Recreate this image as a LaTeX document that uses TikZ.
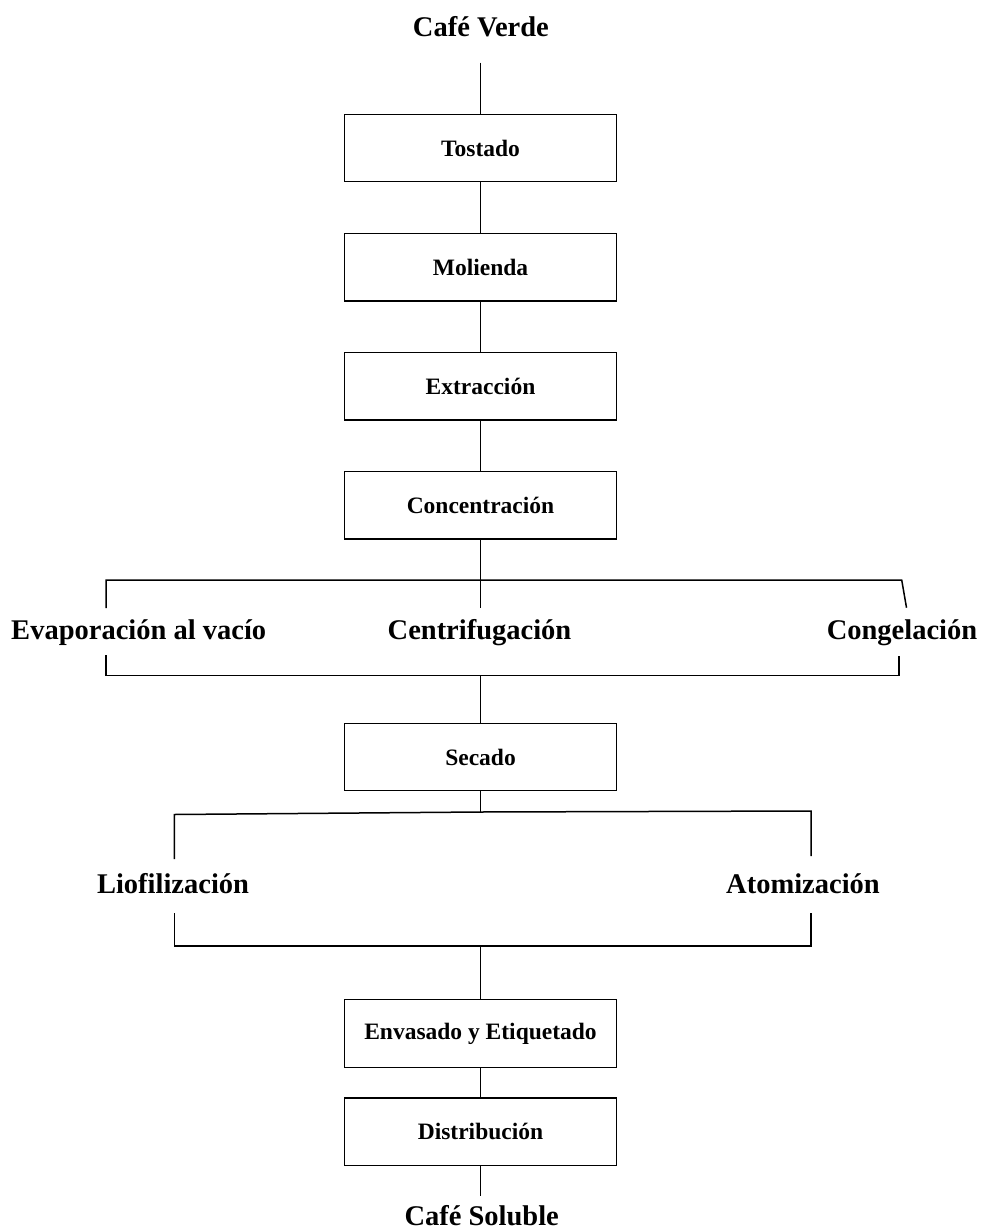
\documentclass[tikz,border=0pt]{standalone}
\usepackage{fontspec}
\setmainfont{Liberation Serif}
\begin{document}
\begin{tikzpicture}[x=1pt,y=-1pt,
  box/.style={draw, line width=1.4pt, minimum width=272.5pt, minimum height=67.5pt, inner sep=0pt,
    font=\fontsize{23.5}{28}\selectfont\bfseries},
  head/.style={font=\fontsize{28.5}{34}\selectfont\bfseries, inner sep=0pt, anchor=base},
  ln/.style={line width=1.5pt, line join=miter}]
\path[fill=white, use as bounding box] (0,0) rectangle (982,1230);

% text labels
\node[head] (cv) at (480.9,36.7) {Café Verde};
\node[head] (evap) at (138.7,639) {Evaporación al vacío};
\node[head] (centr) at (479.5,639) {Centrifugación};
\node[head] (cong) at (902,639) {Congelación};
\node[head] (lio) at (173,893) {Liofilización};
\node[head] (ato) at (803,893) {Atomización};
\node[head] (cs) at (481.7,1225.5) {Café Soluble};

% boxes
\node[box] (tos) at (480.5,148) {Tostado};
\node[box] (mol) at (480.5,267.2) {Molienda};
\node[box] (ext) at (480.5,386.2) {Extracción};
\node[box] (con) at (480.5,505.2) {Concentración};
\node[box] (sec) at (480.5,757) {Secado};
\node[box] (env) at (480.5,1033.5) {Envasado y Etiquetado};
\node[box] (dis) at (480.5,1131.9) {Distribución};

% coordinates
\coordinate (cvend) at (480.5,62.7);
\coordinate (b1m) at (480.5,580);
\coordinate (b1c) at (480.5,608);
\coordinate (b1l) at (106,580);
\coordinate (b1lt) at (106,608);
\coordinate (b1r) at (901.7,580);
\coordinate (b1rt) at (906.5,607.7);
\coordinate (b2lt) at (106,655);
\coordinate (b2l) at (106,675.7);
\coordinate (b2m) at (480.5,675.7);
\coordinate (b2r) at (899,675.7);
\coordinate (b2rt) at (899,655.7);
\coordinate (b3m) at (480.5,812);
\coordinate (b3l) at (174.3,814.5);
\coordinate (b3lt) at (174.3,859);
\coordinate (b3r) at (811,811);
\coordinate (b3rt) at (811,856);
\coordinate (b4lt) at (174.3,913);
\coordinate (b4l) at (174.3,946);
\coordinate (b4m) at (480.5,946);
\coordinate (b4r) at (811,946);
\coordinate (b4rt) at (811,913);
\coordinate (csend) at (480.5,1196);

% connectors
\draw[ln] (cvend) -- (tos.north);
\draw[ln] (tos.south) -- (mol.north);
\draw[ln] (mol.south) -- (ext.north);
\draw[ln] (ext.south) -- (con.north);
\draw[ln] (con.south) -- (b1c);
\draw[ln] (b1lt) -- (b1l) -- (b1m) -- (b1r) -- (b1rt);
\draw[ln] (b2lt) -- (b2l) -- (b2m) -- (b2r) -- (b2rt);
\draw[ln] (b2m) -- (sec.north);
\draw[ln] (sec.south) -- (b3m);
\draw[ln] (b3lt) -- (b3l) -- (b3m) -- (b3r) -- (b3rt);
\draw[ln] (b4lt) -- (b4l) -- (b4m) -- (b4r) -- (b4rt);
\draw[ln] (b4m) -- (env.north);
\draw[ln] (env.south) -- (dis.north);
\draw[ln] (dis.south) -- (csend);
\end{tikzpicture}
\end{document}
